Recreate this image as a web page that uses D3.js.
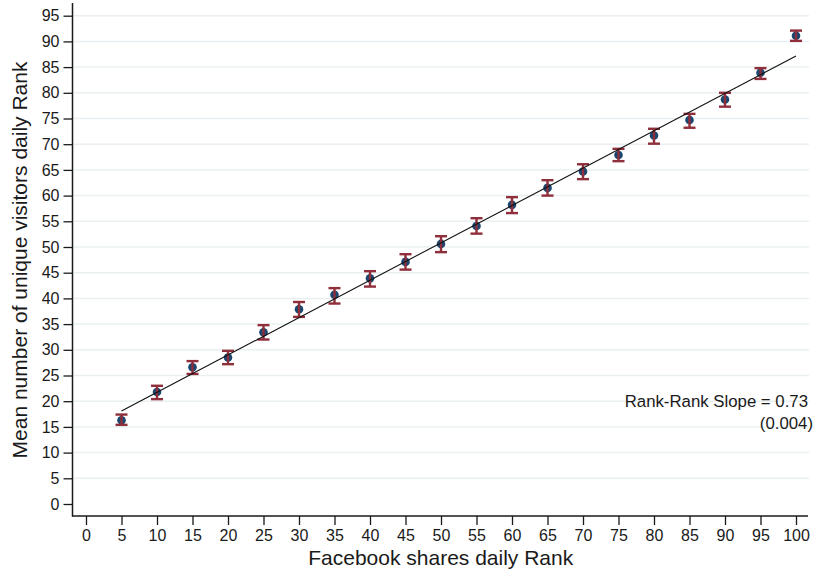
<!DOCTYPE html>
<html>
<head>
<meta charset="utf-8">
<script src="https://cdn.jsdelivr.net/npm/d3@7"></script>
<style>
  html, body { margin: 0; padding: 0; background: #fff; }
  svg { display: block; font-family: "Liberation Sans", Arial, Helvetica, sans-serif; }
</style>
</head>
<body>
<svg id="chart" width="816" height="573"></svg>
<script>
// ---- data ----
const ranks = [5, 10, 15, 20, 25, 30, 35, 40, 45, 50, 55, 60, 65, 70, 75, 80, 85, 90, 95, 100];
const means = [16.3, 21.8, 26.6, 28.5, 33.4, 37.9, 40.7, 43.9, 47.1, 50.6, 54.1, 58.2, 61.5, 64.7, 67.9, 71.7, 74.7, 78.7, 83.9, 91.1];
const upper = [17.4, 23.0, 27.8, 29.8, 34.8, 39.3, 42.0, 45.3, 48.6, 52.1, 55.6, 59.7, 63.0, 66.1, 69.1, 73.0, 75.9, 80.0, 84.8, 92.1];
const lower = [15.4, 20.4, 25.3, 27.2, 32.0, 36.4, 39.0, 42.3, 45.6, 49.0, 52.6, 56.6, 60.0, 63.2, 66.7, 70.1, 73.2, 77.3, 82.7, 90.1];
const fitIntercept = 14.46;
const fitSlope = 0.727;
const fitRange = [5, 100];
const xTicks = d3.range(0, 101, 5);
const yTicks = d3.range(0, 96, 5);
const gridTicks = d3.range(5, 96, 5);
const xTitle = "Facebook shares daily Rank";
const yTitle = "Mean number of unique visitors daily Rank";
const noteLines = ["Rank-Rank Slope = 0.73", "(0.004)"];

// ---- layout ----
const svg = d3.select("#chart");
const x = d3.scaleLinear().domain([0, 100]).range([86, 796]);
const y = d3.scaleLinear().domain([0, 95]).range([504, 15.7]);
const plotLeft = 72.5, plotRight = 809, plotTop = 3, plotBottom = 516;
const navy = "#1a476f", maroon = "#8f2f3b", grid = "#eaf0f2", ink = "#1a1a1a";

// gridlines
svg.append("g").selectAll("line").data(gridTicks).join("line")
  .attr("x1", plotLeft + 1).attr("x2", plotRight)
  .attr("y1", d => y(d)).attr("y2", d => y(d))
  .attr("stroke", grid).attr("stroke-width", 1.5);

// y axis
const yAxis = svg.append("g")
  .attr("transform", `translate(${plotLeft},0)`)
  .call(d3.axisLeft(y).tickValues(yTicks).tickSize(9).tickPadding(4).tickFormat(d3.format("d")));
yAxis.select(".domain").remove();
yAxis.selectAll(".tick line").attr("stroke", ink).attr("stroke-width", 1.3);
yAxis.selectAll(".tick text").attr("font-size", 16).attr("fill", ink)
  .attr("font-family", "Liberation Sans, Arial, sans-serif");

// x axis
const xAxis = svg.append("g")
  .attr("transform", `translate(0,${plotBottom})`)
  .call(d3.axisBottom(x).tickValues(xTicks).tickSize(9).tickPadding(5).tickFormat(d3.format("d")));
xAxis.select(".domain").remove();
xAxis.selectAll(".tick line").attr("stroke", ink).attr("stroke-width", 1.3);
xAxis.selectAll(".tick text").attr("font-size", 16).attr("fill", ink)
  .attr("font-family", "Liberation Sans, Arial, sans-serif");

// axis lines
svg.append("line").attr("x1", plotLeft).attr("x2", plotLeft).attr("y1", plotTop).attr("y2", plotBottom + 0.7)
  .attr("stroke", ink).attr("stroke-width", 1.5);
svg.append("line").attr("x1", plotLeft).attr("x2", plotRight - 1).attr("y1", plotBottom).attr("y2", plotBottom)
  .attr("stroke", ink).attr("stroke-width", 1.5);

const pts = ranks.map((r, i) => ({ r, m: means[i], lo: lower[i], hi: upper[i] }));

// markers
svg.append("g").selectAll("circle").data(pts).join("circle")
  .attr("cx", d => x(d.r)).attr("cy", d => y(d.m)).attr("r", 4.3)
  .attr("fill", navy);

// error bars
const eb = svg.append("g").attr("stroke", maroon).attr("stroke-width", 2.4).attr("fill", "none");
eb.selectAll("line.v").data(pts).join("line").attr("class", "v")
  .attr("x1", d => x(d.r)).attr("x2", d => x(d.r))
  .attr("y1", d => y(d.hi)).attr("y2", d => y(d.lo));
eb.selectAll("line.t").data(pts).join("line").attr("class", "t")
  .attr("x1", d => x(d.r) - 6).attr("x2", d => x(d.r) + 6)
  .attr("y1", d => y(d.hi)).attr("y2", d => y(d.hi));
eb.selectAll("line.b").data(pts).join("line").attr("class", "b")
  .attr("x1", d => x(d.r) - 6).attr("x2", d => x(d.r) + 6)
  .attr("y1", d => y(d.lo)).attr("y2", d => y(d.lo));

// fit line
svg.append("path")
  .datum(fitRange)
  .attr("d", d3.line().x(d => x(d)).y(d => y(fitIntercept + fitSlope * d)))
  .attr("stroke", "#111").attr("stroke-width", 1.1).attr("fill", "none");

// annotation
svg.append("text").attr("x", 808).attr("y", 406.5).attr("text-anchor", "end")
  .attr("font-size", 16.8).attr("fill", ink).text(noteLines[0]);
svg.append("text").attr("x", 813).attr("y", 429).attr("text-anchor", "end")
  .attr("font-size", 16.8).attr("fill", ink).text(noteLines[1]);

// titles
svg.append("text").attr("x", (plotLeft + plotRight) / 2).attr("y", 565)
  .attr("text-anchor", "middle").attr("font-size", 21).attr("fill", ink).text(xTitle);
svg.append("text").attr("transform", `translate(27,260) rotate(-90)`)
  .attr("text-anchor", "middle").attr("font-size", 21).attr("fill", ink).text(yTitle);
</script>
</body>
</html>
